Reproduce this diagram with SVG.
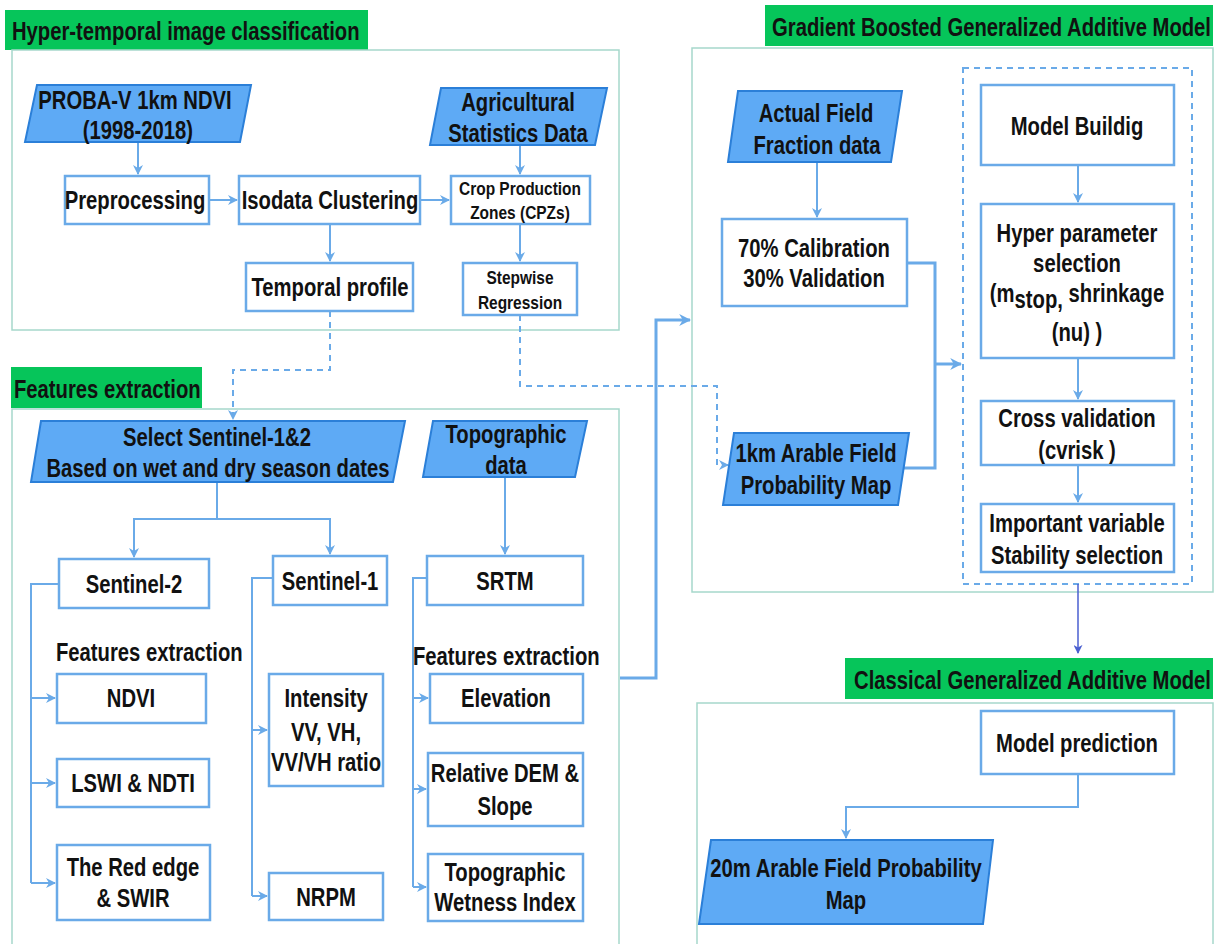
<svg xmlns="http://www.w3.org/2000/svg" width="1217" height="944" viewBox="0 0 1217 944">
<defs>
<marker id="ah" viewBox="0 0 10 10" refX="9" refY="5" markerWidth="5" markerHeight="5" orient="auto" markerUnits="strokeWidth"><path d="M0,0 L10,5 L0,10 L3,5 z" fill="#6aaae8"/></marker>
<marker id="ahb" viewBox="0 0 10 10" refX="9" refY="5" markerWidth="4" markerHeight="4" orient="auto" markerUnits="strokeWidth"><path d="M0,0 L10,5 L0,10 L3,5 z" fill="#6aaae8"/></marker>
<marker id="ahd" viewBox="0 0 10 10" refX="9" refY="5" markerWidth="6" markerHeight="6" orient="auto" markerUnits="strokeWidth"><path d="M0,0 L10,5 L0,10 L3,5 z" fill="#4a5fd0"/></marker>
<style>
text{font-family:"Liberation Sans Narrow","Arial Narrow","Liberation Sans",Arial,sans-serif;font-weight:bold;fill:#111;transform-box:fill-box;}
.t{font-size:25px;text-anchor:middle;transform-origin:center;transform:scaleX(0.81);}
.s{font-size:18px;text-anchor:middle;transform-origin:center;transform:scaleX(0.86);}
.h{font-size:25px;transform-origin:left center;transform:scaleX(0.81);}
.he{font-size:25px;text-anchor:end;transform-origin:right center;transform:scaleX(0.81);}
.hdr{fill:#06c55a;}
.sec{fill:none;stroke:#a6d8cb;stroke-width:1.5;}
.box{fill:#fff;stroke:#6aaae8;stroke-width:2.5;}
.par{fill:#5eaaf5;stroke:#2b7fd8;stroke-width:2;}
.c{fill:none;stroke:#6aaae8;stroke-width:2;}
.ct{fill:none;stroke:#6aaae8;stroke-width:3;}
.d{fill:none;stroke:#6aaae8;stroke-width:2;stroke-dasharray:6 5;}
</style>
</defs>
<rect width="1217" height="944" fill="#fff"/>

<g id="section-hyper-temporal">
<rect class="hdr" x="5" y="10" width="363" height="40"/>
<text class="h" x="12" y="40">Hyper-temporal image classification</text>
<rect class="sec" x="12" y="50" width="607" height="280"/>
</g>
<g id="section-features">
<rect class="hdr" x="11" y="367" width="191" height="41"/>
<text class="h" x="14" y="398">Features extraction</text>
<rect class="sec" x="12" y="409" width="607" height="545"/>
</g>
<g id="section-gbgam">
<rect class="hdr" x="765" y="5" width="448" height="41"/>
<text class="he" x="1211" y="36">Gradient Boosted Generalized Additive Model</text>
<rect class="sec" x="692" y="48" width="521" height="544"/>
<rect fill="none" stroke="#6aaae8" stroke-width="2" stroke-dasharray="6 5" x="963" y="68" width="229" height="516"/>
</g>
<g id="section-classical">
<rect class="hdr" x="845" y="658" width="368" height="41"/>
<text class="he" x="1211" y="689">Classical Generalized Additive Model</text>
<rect class="sec" x="697" y="703" width="516" height="260"/>
</g>

<g id="connectors">
<path class="c" d="M138,142 V174" marker-end="url(#ah)"/>
<path class="c" d="M209,200 H237" marker-end="url(#ah)"/>
<path class="c" d="M420,200 H449" marker-end="url(#ah)"/>
<path class="c" d="M520,145 V174" marker-end="url(#ah)"/>
<path class="c" d="M330,224 V261" marker-end="url(#ah)"/>
<path class="c" d="M520,224 V261" marker-end="url(#ah)"/>
<path class="d" d="M330,311 V370 H233 V419" marker-end="url(#ah)"/>
<path class="d" d="M520,315 V386 H717 V465 H728" marker-end="url(#ah)"/>
<path class="c" d="M217,482 V519 H134 V557" marker-end="url(#ah)"/>
<path class="c" d="M217,519 H330 V554" marker-end="url(#ah)"/>
<path class="c" d="M505,477 V554" marker-end="url(#ah)"/>
<path class="c" d="M59,584 H31 V883"/>
<path class="c" d="M31,698 H55" marker-end="url(#ah)"/>
<path class="c" d="M31,783 H55" marker-end="url(#ah)"/>
<path class="c" d="M31,883 H55" marker-end="url(#ah)"/>
<path class="c" d="M273,578 H252 V896"/>
<path class="c" d="M252,730 H267" marker-end="url(#ah)"/>
<path class="c" d="M252,896 H267" marker-end="url(#ah)"/>
<path class="c" d="M427,578 H413 V887"/>
<path class="c" d="M413,698 H428" marker-end="url(#ah)"/>
<path class="c" d="M413,789 H426" marker-end="url(#ah)"/>
<path class="c" d="M413,887 H426" marker-end="url(#ah)"/>
<path class="ct" d="M620,678 H656 V320 H690" marker-end="url(#ahb)"/>
<path class="c" d="M817,162 V217" marker-end="url(#ah)"/>
<path class="ct" d="M907,263 H935 V468 H903"/>
<path class="ct" d="M935,364 H961" marker-end="url(#ahb)"/>
<path class="c" d="M1078,165 V202" marker-end="url(#ah)"/>
<path class="c" d="M1078,358 V399" marker-end="url(#ah)"/>
<path class="c" d="M1078,465 V502" marker-end="url(#ah)"/>
<path fill="none" stroke="#4a5fd0" stroke-width="1.5" d="M1078,584 V653" marker-end="url(#ahd)"/>
<path class="c" d="M1078,774 V807 H846 V838" marker-end="url(#ah)"/>
</g>

<g id="n-proba">
<polygon class="par" points="37,85 251,85 240,142 25,142"/>
<text class="t" x="135" y="109">PROBA-V 1km NDVI</text>
<text class="t" x="138" y="139">(1998-2018)</text>
</g>
<g id="n-agri">
<polygon class="par" points="441,88 607,88 595,145 430,145"/>
<text class="t" x="518" y="111">Agricultural</text>
<text class="t" x="518" y="142">Statistics Data</text>
</g>
<g id="n-pre">
<rect class="box" x="65" y="176" width="144" height="48"/>
<text class="t" x="135" y="209">Preprocessing</text>
</g>
<g id="n-iso">
<rect class="box" x="239" y="176" width="181" height="48"/>
<text class="t" x="330" y="209">Isodata Clustering</text>
</g>
<g id="n-cpz">
<rect class="box" x="451" y="176" width="139" height="48"/>
<text class="s" x="520" y="195">Crop Production</text>
<text class="s" x="520" y="219">Zones (CPZs)</text>
</g>
<g id="n-temporal">
<rect class="box" x="246" y="263" width="167" height="48"/>
<text class="t" x="330" y="296">Temporal profile</text>
</g>
<g id="n-stepwise">
<rect class="box" x="463" y="263" width="114" height="52"/>
<text class="s" x="520" y="284">Stepwise</text>
<text class="s" x="520" y="309">Regression</text>
</g>

<g id="n-select">
<polygon class="par" points="41,421 405,421 393,482 31,482"/>
<text class="t" x="217" y="446">Select Sentinel-1&amp;2</text>
<text class="t" x="218" y="477">Based on wet and dry season dates</text>
</g>
<g id="n-topo">
<polygon class="par" points="433,421 587,421 575,477 423,477"/>
<text class="t" x="506" y="443">Topographic</text>
<text class="t" x="506" y="474">data</text>
</g>
<g id="n-s2">
<rect class="box" x="59" y="559" width="150" height="49"/>
<text class="t" x="134" y="593">Sentinel-2</text>
</g>
<g id="n-s1">
<rect class="box" x="273" y="556" width="114" height="49"/>
<text class="t" x="330" y="590">Sentinel-1</text>
</g>
<g id="n-srtm">
<rect class="box" x="427" y="556" width="156" height="49"/>
<text class="t" x="505" y="590">SRTM</text>
</g>
<g id="label-fe-left">
<text class="h" x="56" y="661">Features extraction</text>
</g>
<g id="label-fe-right">
<text class="h" x="413" y="665">Features extraction</text>
</g>
<g id="n-ndvi">
<rect class="box" x="57" y="674" width="149" height="49"/>
<text class="t" x="131" y="707">NDVI</text>
</g>
<g id="n-lswi">
<rect class="box" x="57" y="759" width="152" height="48"/>
<text class="t" x="133" y="792">LSWI &amp; NDTI</text>
</g>
<g id="n-rededge">
<rect class="box" x="57" y="845" width="153" height="75"/>
<text class="t" x="133" y="876">The Red edge</text>
<text class="t" x="133" y="907">&amp; SWIR</text>
</g>
<g id="n-intensity">
<rect class="box" x="269" y="674" width="114" height="112"/>
<text class="t" x="326" y="707">Intensity</text>
<text class="t" x="326" y="741">VV, VH,</text>
<text class="t" x="326" y="771">VV/VH ratio</text>
</g>
<g id="n-nrpm">
<rect class="box" x="269" y="873" width="114" height="47"/>
<text class="t" x="326" y="906">NRPM</text>
</g>
<g id="n-elev">
<rect class="box" x="430" y="674" width="153" height="49"/>
<text class="t" x="506" y="707">Elevation</text>
</g>
<g id="n-reldem">
<rect class="box" x="428" y="753" width="155" height="73"/>
<text class="t" x="505" y="782">Relative DEM &amp;</text>
<text class="t" x="505" y="815">Slope</text>
</g>
<g id="n-twi">
<rect class="box" x="428" y="854" width="155" height="67"/>
<text class="t" x="505" y="881">Topographic</text>
<text class="t" x="505" y="911">Wetness Index</text>
</g>

<g id="n-actual">
<polygon class="par" points="738,91 902,91 891,162 728,162"/>
<text class="t" x="816" y="122">Actual Field</text>
<text class="t" x="817" y="154">Fraction data</text>
</g>
<g id="n-calib">
<rect class="box" x="722" y="219" width="185" height="87"/>
<text class="t" x="814" y="257">70% Calibration</text>
<text class="t" x="814" y="287">30% Validation</text>
</g>
<g id="n-1km">
<polygon class="par" points="734,433 909,433 898,505 723,505"/>
<text class="t" x="816" y="462">1km Arable Field</text>
<text class="t" x="816" y="494">Probability Map</text>
</g>
<g id="n-build">
<rect class="box" x="981" y="85" width="193" height="80"/>
<text class="t" x="1077" y="135">Model Buildig</text>
</g>
<g id="n-hyper">
<rect class="box" x="981" y="204" width="193" height="154"/>
<text class="t" x="1077" y="242">Hyper parameter</text>
<text class="t" x="1077" y="272">selection</text>
<text class="t" x="1077" y="302">(m<tspan dy="6">stop,</tspan><tspan dy="-6"> shrinkage</tspan></text>
<text class="t" x="1077" y="341">(nu) )</text>
</g>
<g id="n-cv">
<rect class="box" x="981" y="401" width="193" height="64"/>
<text class="t" x="1077" y="427">Cross validation</text>
<text class="t" x="1077" y="459">(cvrisk )</text>
</g>
<g id="n-imp">
<rect class="box" x="981" y="504" width="193" height="68"/>
<text class="t" x="1077" y="532">Important variable</text>
<text class="t" x="1077" y="564">Stability selection</text>
</g>
<g id="n-pred">
<rect class="box" x="981" y="711" width="193" height="63"/>
<text class="t" x="1077" y="752">Model prediction</text>
</g>
<g id="n-20m">
<polygon class="par" points="711,840 993,840 983,924 699,924"/>
<text class="t" x="846" y="877">20m Arable Field Probability</text>
<text class="t" x="846" y="909">Map</text>
</g>
</svg>
